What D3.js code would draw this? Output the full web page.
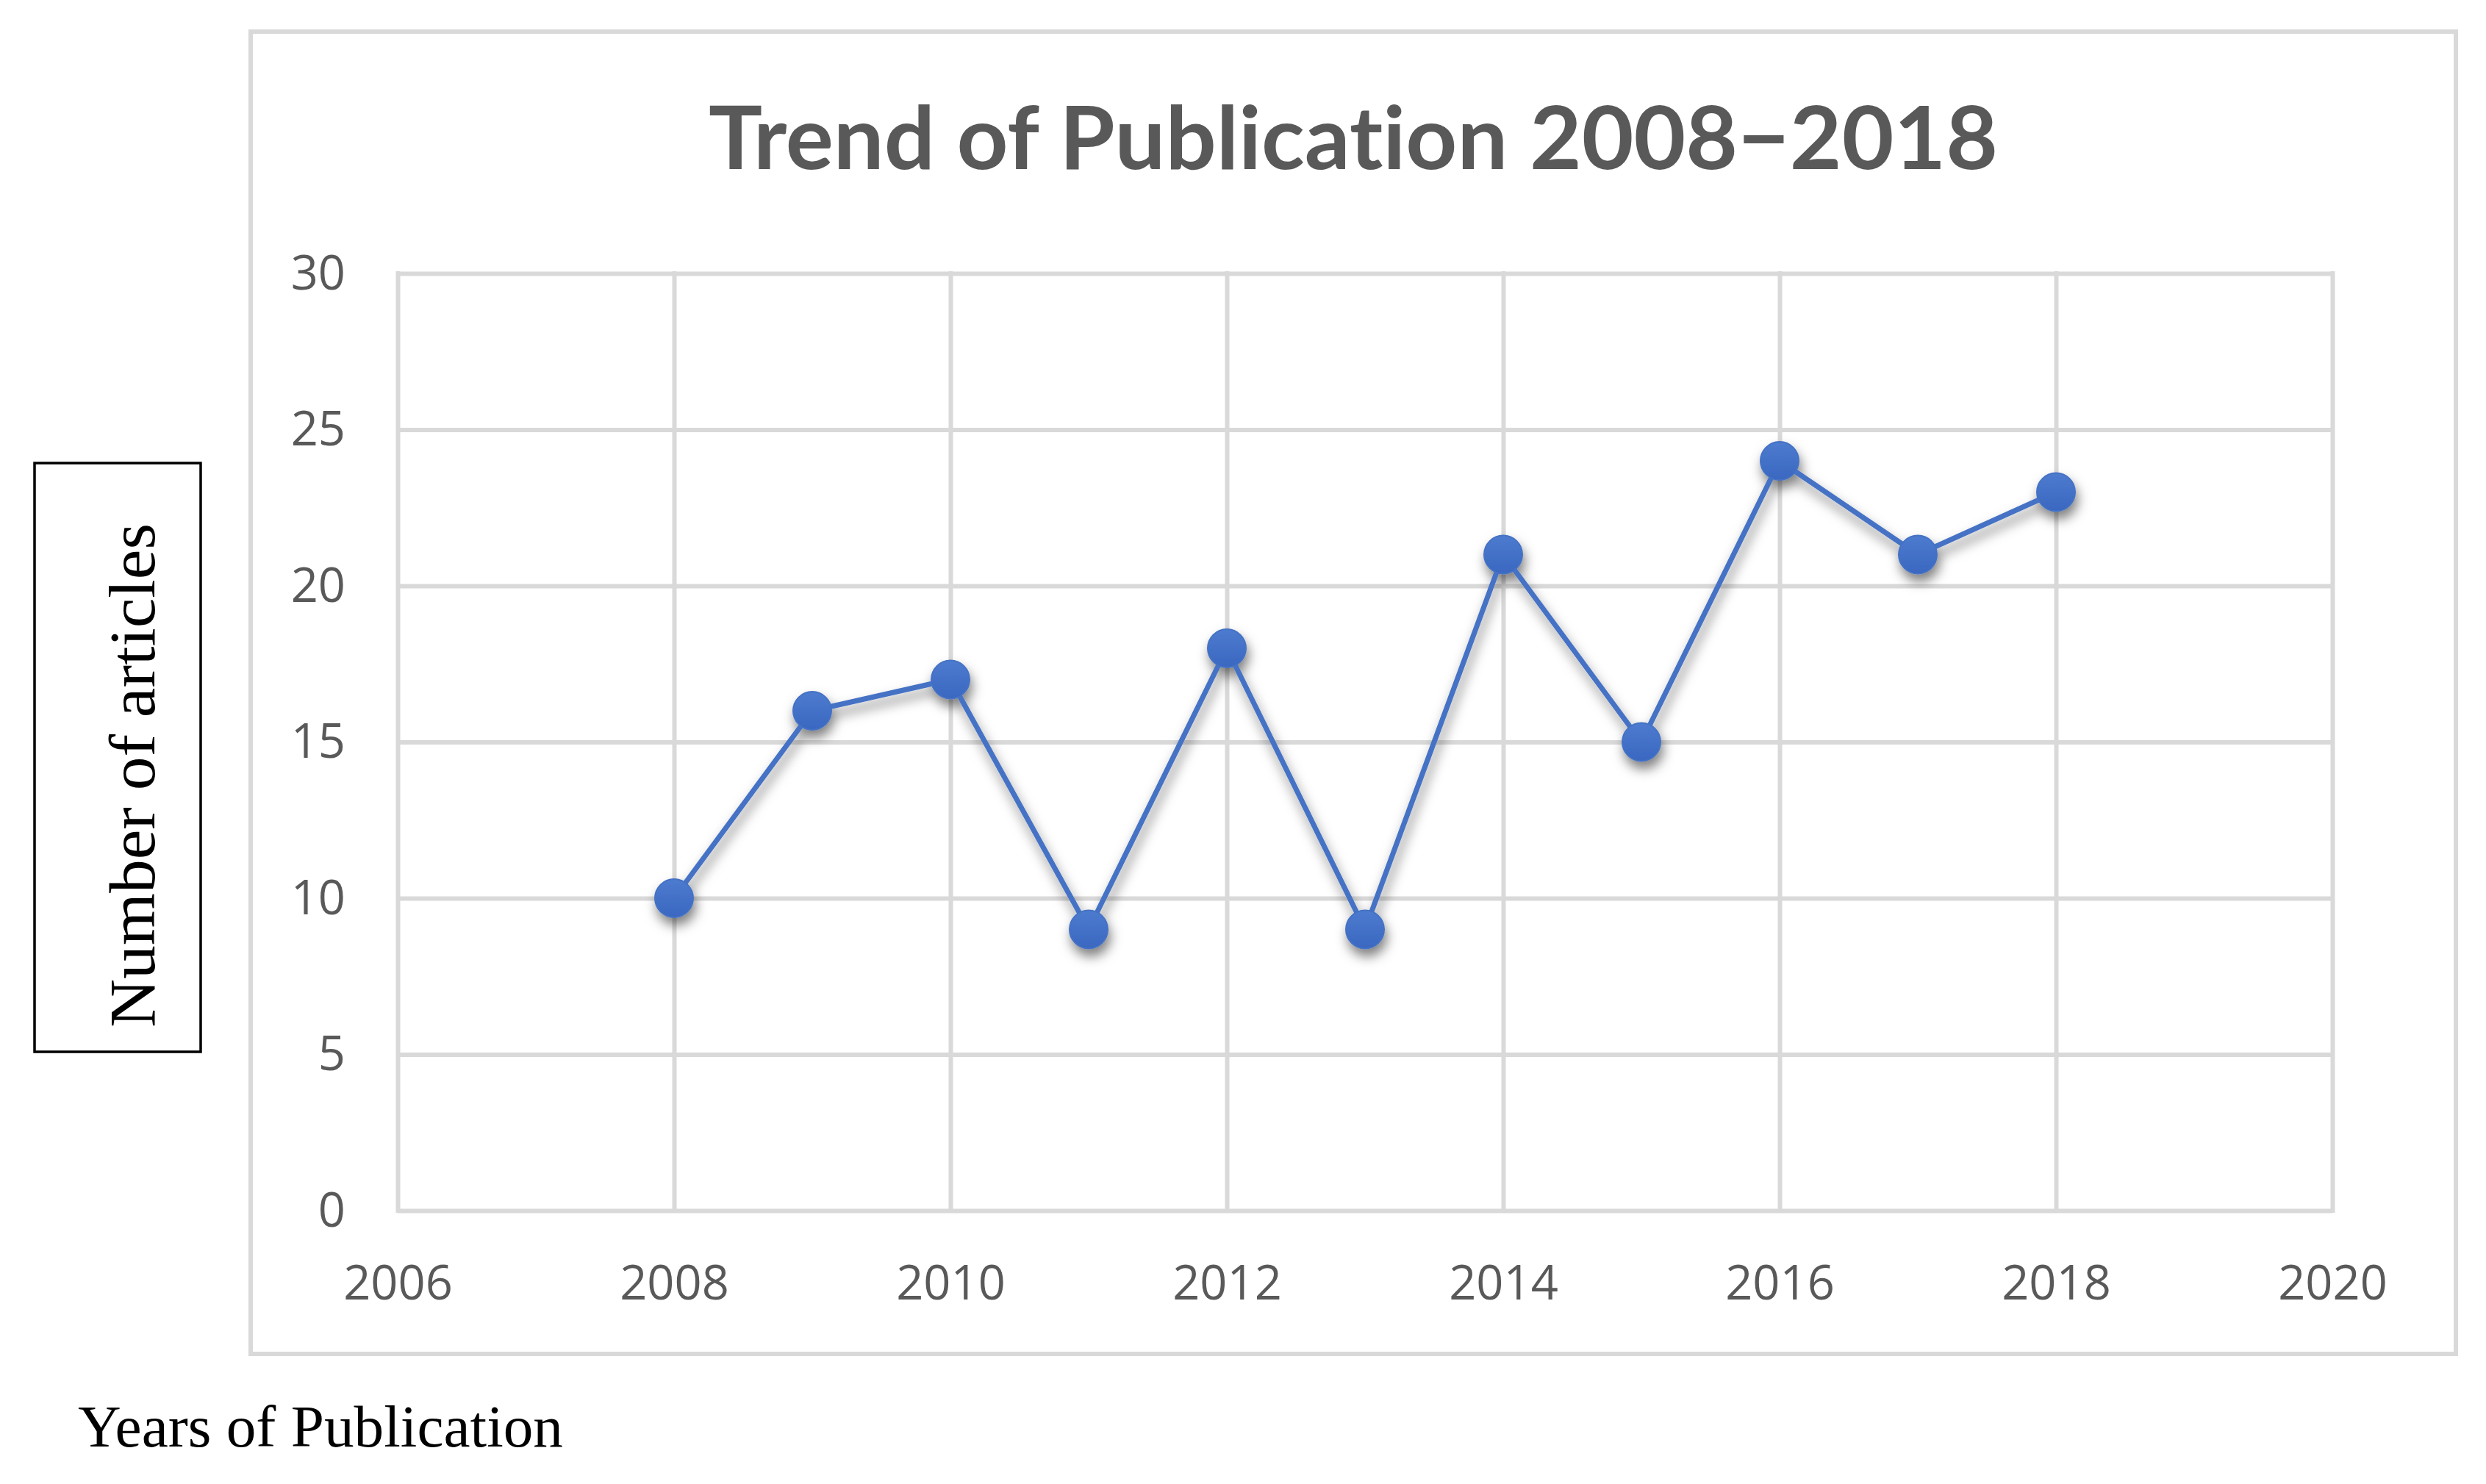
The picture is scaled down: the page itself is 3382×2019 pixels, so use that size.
<!DOCTYPE html>
<html>
<head>
<meta charset="utf-8">
<script src="https://cdn.jsdelivr.net/npm/d3@7/dist/d3.min.js"></script>
<style>
  html, body { margin: 0; padding: 0; background: #ffffff; }
  svg { display: block; }
  text { font-variant-ligatures: none; font-feature-settings: "liga" 0, "clig" 0; }
</style>
</head>
<body>
<svg id="chart" width="3382" height="2019"></svg>
<script>
// ---- data ----
const years = [2008, 2009, 2010, 2011, 2012, 2013, 2014, 2015, 2016, 2017, 2018];
const articles = [10, 16, 17, 9, 18, 9, 21, 15, 24, 21, 23];
const xTicks = [2006, 2008, 2010, 2012, 2014, 2016, 2018, 2020];
const yTicks = [0, 5, 10, 15, 20, 25, 30];
const titleText = "Trend of Publication 2008\u22122018";
const yLabelText = "Number of articles";
const xLabelText = "Years of Publication";

// ---- layout ----
const plot = { left: 541, right: 3173, top: 372, bottom: 1647 };
const gridColor = "#d9d9d9";
const textGray = "#595959";
const lineBlue = "#4472c4";
const tickFont = "'Open Sans', 'Noto Sans', sans-serif";

const svg = d3.select("#chart");

const defs = svg.append("defs");
const shadow = defs.append("filter").attr("id", "shadow")
  .attr("x", "-20%").attr("y", "-20%").attr("width", "140%").attr("height", "140%");
shadow.append("feDropShadow")
  .attr("dx", 3).attr("dy", 10).attr("stdDeviation", 8)
  .attr("flood-color", "#000").attr("flood-opacity", 0.5);
const grad = defs.append("linearGradient").attr("id", "mgrad")
  .attr("x1", 0).attr("y1", 0).attr("x2", 0).attr("y2", 1);
grad.append("stop").attr("offset", "0%").attr("stop-color", "#4d7bcf");
grad.append("stop").attr("offset", "100%").attr("stop-color", "#3a67c0");

// outer chart border
svg.append("rect")
  .attr("x", 341).attr("y", 43)
  .attr("width", 3341 - 341).attr("height", 1842 - 43)
  .attr("fill", "#ffffff").attr("stroke", gridColor).attr("stroke-width", 6);

// scales
const x = d3.scaleLinear().domain([2006, 2020]).range([plot.left, plot.right]);
const y = d3.scaleLinear().domain([0, 30]).range([plot.bottom, plot.top]);

// gridlines
const yGrid = svg.append("g")
  .attr("transform", `translate(${plot.left},0)`)
  .call(d3.axisLeft(y).tickValues(yTicks).tickSize(-(plot.right - plot.left)).tickFormat(""));
yGrid.select(".domain").remove();
yGrid.selectAll("line").attr("stroke", gridColor).attr("stroke-width", 6);

const xGrid = svg.append("g")
  .attr("transform", `translate(0,${plot.bottom})`)
  .call(d3.axisBottom(x).tickValues(xTicks).tickSize(-(plot.bottom - plot.top)).tickFormat(""));
xGrid.select(".domain").remove();
xGrid.selectAll("line").attr("stroke", gridColor).attr("stroke-width", 6)
  .attr("y1", 3).attr("y2", -(plot.bottom - plot.top) - 3);

// y tick labels
const yAxis = svg.append("g")
  .attr("transform", `translate(${plot.left},0)`)
  .call(d3.axisLeft(y).tickValues(yTicks).tickSize(0).tickPadding(71).tickFormat(d3.format("d")));
yAxis.select(".domain").remove();
yAxis.selectAll("text")
  .attr("font-family", tickFont).attr("font-size", 65).attr("fill", textGray)
  .attr("dy", "0.33em");

// x tick labels
const xAxis = svg.append("g")
  .attr("transform", `translate(0,${plot.bottom})`)
  .call(d3.axisBottom(x).tickValues(xTicks).tickSize(0).tickFormat(d3.format("d")));
xAxis.select(".domain").remove();
xAxis.selectAll("text")
  .attr("font-family", tickFont).attr("font-size", 65).attr("fill", textGray)
  .attr("y", 1768 - plot.bottom).attr("dy", 0);

// series line + markers
const series = years.map((yr, i) => ({ yr, v: articles[i] }));
const gSeries = svg.append("g").attr("filter", "url(#shadow)");
gSeries.append("path")
  .datum(series)
  .attr("fill", "none")
  .attr("stroke", lineBlue)
  .attr("stroke-width", 7)
  .attr("stroke-linejoin", "round")
  .attr("d", d3.line().x(d => x(d.yr)).y(d => y(d.v)));
gSeries.selectAll("circle")
  .data(series)
  .join("circle")
  .attr("cx", d => x(d.yr))
  .attr("cy", d => y(d.v))
  .attr("r", 26)
  .attr("fill", "url(#mgrad)")
  .attr("stroke", "#4472c4")
  .attr("stroke-width", 2);

// title
svg.append("text")
  .attr("x", 1841).attr("y", 230)
  .attr("text-anchor", "middle")
  .attr("font-family", "Lato, 'Open Sans', sans-serif")
  .attr("font-weight", "bold")
  .attr("font-size", 118)
  .attr("fill", textGray)
  .attr("textLength", 1754)
  .attr("lengthAdjust", "spacingAndGlyphs")
  .text(titleText);

// y label box
svg.append("rect")
  .attr("x", 47).attr("y", 630)
  .attr("width", 273 - 47).attr("height", 1431 - 630)
  .attr("fill", "#ffffff").attr("stroke", "#000").attr("stroke-width", 3.5);
svg.append("text")
  .attr("transform", "translate(210,1055) rotate(-90)")
  .attr("text-anchor", "middle")
  .attr("font-family", "'Liberation Serif', 'DejaVu Serif', serif")
  .attr("font-size", 89)
  .attr("fill", "#000")
  .attr("textLength", 686)
  .attr("lengthAdjust", "spacingAndGlyphs")
  .text(yLabelText);

// x label
svg.append("text")
  .attr("x", 106).attr("y", 1968)
  .attr("font-family", "'Liberation Serif', 'DejaVu Serif', serif")
  .attr("font-size", 80)
  .attr("fill", "#000")
  .attr("textLength", 660)
  .attr("lengthAdjust", "spacingAndGlyphs")
  .text(xLabelText);
</script>
</body>
</html>
